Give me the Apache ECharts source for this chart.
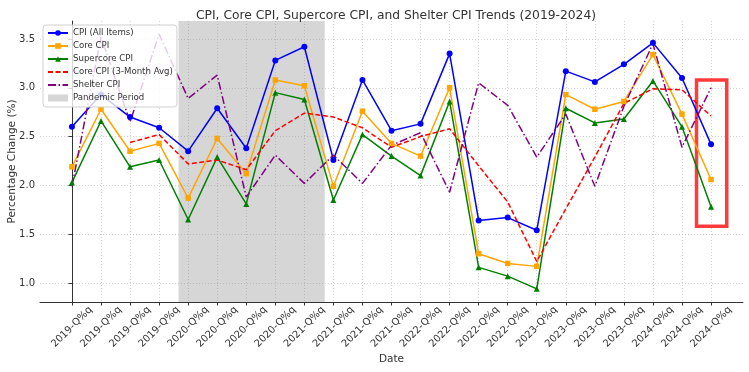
<!DOCTYPE html>
<html><head><meta charset="utf-8">
<script src="https://cdn.jsdelivr.net/npm/echarts@6/dist/echarts.min.js"></script>
<style>html,body{margin:0;padding:0;background:#fff}#c{width:749px;height:372px}</style>
</head><body><div id="c"></div>
<script>
// ---- data ----
const quarters = [
  '2019-Q%q','2019-Q%q','2019-Q%q','2019-Q%q',
  '2020-Q%q','2020-Q%q','2020-Q%q','2020-Q%q',
  '2021-Q%q','2021-Q%q','2021-Q%q','2021-Q%q',
  '2022-Q%q','2022-Q%q','2022-Q%q','2022-Q%q',
  '2023-Q%q','2023-Q%q','2023-Q%q','2023-Q%q',
  '2024-Q%q','2024-Q%q','2024-Q%q'
];
const cpi       = [2.60, 2.93, 2.70, 2.59, 2.35, 2.79, 2.38, 3.28, 3.42, 2.26, 3.08, 2.56, 2.63, 3.35, 1.64, 1.67, 1.54, 3.17, 3.06, 3.24, 3.46, 3.10, 2.42];
const coreCpi   = [2.19, 2.78, 2.35, 2.43, 1.87, 2.48, 2.12, 3.08, 3.02, 1.99, 2.76, 2.43, 2.30, 3.00, 1.30, 1.20, 1.17, 2.93, 2.78, 2.86, 3.34, 2.73, 2.06];
const supercore = [2.03, 2.66, 2.19, 2.26, 1.65, 2.29, 1.81, 2.95, 2.88, 1.85, 2.52, 2.30, 2.10, 2.86, 1.16, 1.07, 0.94, 2.79, 2.64, 2.68, 3.07, 2.60, 1.78];
const core3m    = [null, null, 2.44, 2.52, 2.22, 2.26, 2.16, 2.56, 2.74, 2.70, 2.59, 2.39, 2.50, 2.58, 2.20, 1.83, 1.22, 1.76, 2.29, 2.84, 2.99, 2.98, 2.71];
const shelter   = [1.99, 3.52, 2.65, 3.55, 2.89, 3.13, 1.88, 2.31, 2.02, 2.31, 2.02, 2.41, 2.54, 1.93, 3.05, 2.82, 2.29, 2.73, 1.99, 2.81, 3.45, 2.39, 3.00];
const yTicks = [1.0, 1.5, 2.0, 2.5, 3.0, 3.5];
const pandemicRange = [3.67, 8.70];           // in quarter-index units
const highlightBox = [[21.5, 3.08], [22.54, 1.58]];

// ---- chart ----
const idx = quarters.map((_, i) => i);
const pts = arr => arr.map((v, i) => [i, v]);
const chart = echarts.init(document.getElementById('c'), null, {renderer: 'canvas'});
const txt = '#333';
const font = 'DejaVu Sans';
chart.setOption({
  animation: false,
  textStyle: {fontFamily: font},
  title: {
    text: 'CPI, Core CPI, Supercore CPI, and Shelter CPI Trends (2019-2024)',
    left: 391, top: 5, textAlign: 'center',
    textStyle: {fontSize: 12.3, fontWeight: 'normal', color: txt, fontFamily: font}
  },
  grid: {left: 40, right: 6, top: 21, bottom: 70, outerBoundsMode: 'none'},
  legend: {
    z: 20,
    orient: 'vertical', left: 43, top: 25,
    padding: [3, 4, 4, 4], itemGap: 3, itemWidth: 20, itemHeight: 7,
    backgroundColor: 'rgba(255,255,255,0.8)', borderColor: '#d0d0d0', borderWidth: 1, borderRadius: 3,
    textStyle: {fontSize: 8.6, color: txt, lineHeight: 10, fontFamily: font},
    data: [
      {name: 'CPI (All Items)'},
      {name: 'Core CPI'},
      {name: 'Supercore CPI'},
      {name: 'Core CPI (3-Month Avg)', itemStyle: {color: 'transparent', borderColor: 'transparent', borderWidth: 0}},
      {name: 'Shelter CPI', itemStyle: {color: 'transparent', borderColor: 'transparent', borderWidth: 0}},
      {name: 'Pandemic Period', icon: 'rect', itemStyle: {color: '#d6d6d6'}}
    ]
  },
  xAxis: {
    type: 'value', min: -1.1, max: 23.1,
    axisLine: {show: true, onZero: false, lineStyle: {color: '#333', width: 1}},
    axisTick: {show: true, customValues: idx, length: 3.5, lineStyle: {color: '#333'}},
    axisLabel: {
      customValues: idx, formatter: v => quarters[Math.round(v)] || '',
      rotate: 45, align: 'center', verticalAlign: 'middle', margin: 25,
      fontSize: 10, color: txt, fontFamily: font
    },
    splitLine: {show: true, lineStyle: {type: [1, 2], color: '#c8c8c8', width: 0.8}},
    name: 'Date', nameLocation: 'middle', nameGap: 52, nameMoveOverlap: false,
    nameTextStyle: {fontSize: 10.5, color: txt, fontFamily: font}
  },
  yAxis: {
    type: 'value', min: 0.805, max: 3.684,
    axisLine: {show: true, lineStyle: {color: '#333', width: 1}},
    axisTick: {show: true, customValues: yTicks, length: 3.5, lineStyle: {color: '#333'}},
    axisLabel: {customValues: yTicks, formatter: v => v.toFixed(1), margin: 5, fontSize: 10, color: txt, fontFamily: font},
    splitLine: {show: true, lineStyle: {type: [1, 2], color: '#c8c8c8', width: 0.8}},
    name: 'Percentage Change (%)', nameLocation: 'middle', nameGap: 22, nameMoveOverlap: false,
    nameTextStyle: {fontSize: 10.5, color: txt, fontFamily: font}
  },
  series: [
    {
      name: 'Pandemic Period', type: 'line', data: [], z: 1,
      itemStyle: {color: '#d6d6d6'},
      markArea: {silent: true, itemStyle: {color: 'rgba(128,128,128,0.32)'},
        data: [[{xAxis: pandemicRange[0]}, {xAxis: pandemicRange[1]}]]}
    },
    {
      name: 'CPI (All Items)', type: 'line', data: pts(cpi), z: 3,
      symbol: 'circle', symbolSize: 6, color: '#0000ff',
      lineStyle: {width: 1.5, color: '#0000ff'}, itemStyle: {color: '#0000ff'}
    },
    {
      name: 'Core CPI', type: 'line', data: pts(coreCpi), z: 3,
      symbol: 'rect', symbolSize: 5.5, color: '#ffa500',
      lineStyle: {width: 1.5, color: '#ffa500'}, itemStyle: {color: '#ffa500'}
    },
    {
      name: 'Supercore CPI', type: 'line', data: pts(supercore), z: 3,
      symbol: 'triangle', symbolSize: 6, color: '#008000',
      lineStyle: {width: 1.5, color: '#008000'}, itemStyle: {color: '#008000'}
    },
    {
      name: 'Core CPI (3-Month Avg)', type: 'line', data: pts(core3m), z: 3,
      symbol: 'none', showSymbol: false, color: '#ff0000', connectNulls: false,
      lineStyle: {width: 1.5, color: '#ff0000', type: [5, 2.5]}
    },
    {
      name: 'Shelter CPI', type: 'line', data: pts(shelter), z: 3,
      symbol: 'none', showSymbol: false, color: '#800080',
      lineStyle: {width: 1.5, color: '#800080', type: [8, 2.5, 1.5, 2.5]}
    },
    {
      name: 'highlight', type: 'line', data: [], z: 10,
      markArea: {silent: true,
        itemStyle: {color: 'transparent', borderColor: '#ff3b3b', borderWidth: 3.5},
        data: [[{xAxis: highlightBox[0][0], yAxis: highlightBox[0][1]}, {xAxis: highlightBox[1][0], yAxis: highlightBox[1][1]}]]}
    }
  ]
});
</script>
</body></html>
